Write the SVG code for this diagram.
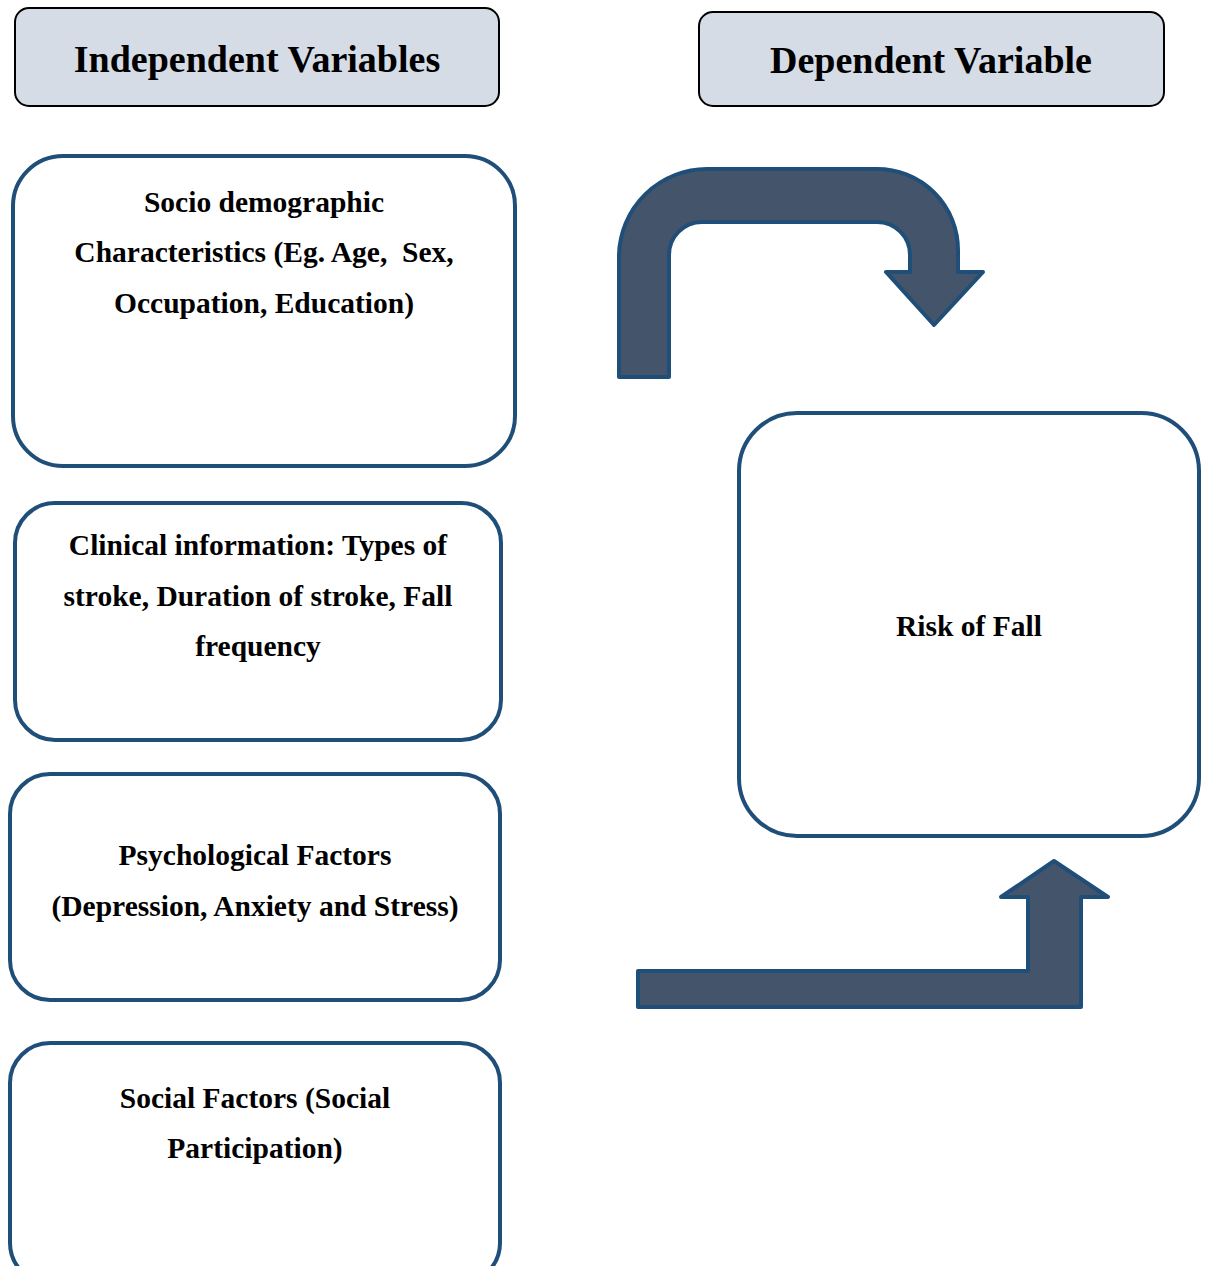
<svg xmlns="http://www.w3.org/2000/svg" width="1210" height="1266" viewBox="0 0 1210 1266">
<style>
.hdr{fill:#d5dce6;stroke:#000;stroke-width:2}
.hdrt{font-family:"Liberation Serif","Times New Roman",serif;font-weight:bold;font-size:38px;fill:#000;text-anchor:middle}
.box{fill:#fff;stroke:#1f4e79;stroke-width:4}
.t{font-family:"Liberation Serif","Times New Roman",serif;font-weight:bold;font-size:29.5px;fill:#000;text-anchor:middle}
.arr{fill:#44546a;stroke:#1f4e79;stroke-width:4;stroke-linejoin:round}
</style>
<rect width="1210" height="1266" fill="#fff"/>
<g id="hdr-independent">
<rect class="hdr" x="15" y="8" width="484" height="98" rx="14"/>
<text class="hdrt" x="257" y="72">Independent Variables</text>
</g>
<g id="hdr-dependent">
<rect class="hdr" x="699" y="12" width="465" height="94" rx="14"/>
<text class="hdrt" x="931" y="73">Dependent Variable</text>
</g>
<g id="socio">
<rect class="box" x="13" y="156" width="502" height="310" rx="50"/>
<text class="t" x="264" y="212">Socio demographic</text>
<text class="t" x="264" y="262" xml:space="preserve">Characteristics (Eg. Age,  Sex,</text>
<text class="t" x="264" y="313">Occupation, Education)</text>
</g>
<g id="clinical">
<rect class="box" x="15" y="503" width="486" height="237" rx="40"/>
<text class="t" x="258" y="555">Clinical information: Types of</text>
<text class="t" x="258" y="606">stroke, Duration of stroke, Fall</text>
<text class="t" x="258" y="656">frequency</text>
</g>
<g id="psych">
<rect class="box" x="10" y="774" width="490" height="226" rx="40"/>
<text class="t" x="255" y="865">Psychological Factors</text>
<text class="t" x="255" y="916">(Depression, Anxiety and Stress)</text>
</g>
<g id="social">
<rect class="box" x="10" y="1043" width="490" height="240" rx="40"/>
<text class="t" x="255" y="1108">Social Factors (Social</text>
<text class="t" x="255" y="1158">Participation)</text>
</g>
<g id="risk">
<rect class="box" x="739" y="413" width="460" height="423" rx="58"/>
<text class="t" x="969" y="636">Risk of Fall</text>
</g>
<g id="connectors">
<path class="arr" d="M619,377 L619,255 A88,88 0 0 1 707,169 L877,169 A81,81 0 0 1 958,250 L958,272 L983,272 L934,325 L886,272 L910,272 L910,255 A33,33 0 0 0 877,222 L702,222 A33,33 0 0 0 669,255 L669,377 Z"/>
<path class="arr" d="M638,971 L1028,971 L1028,897 L1001,897 L1054,861 L1108,897 L1081,897 L1081,1007 L638,1007 Z"/>
</g>
</svg>
